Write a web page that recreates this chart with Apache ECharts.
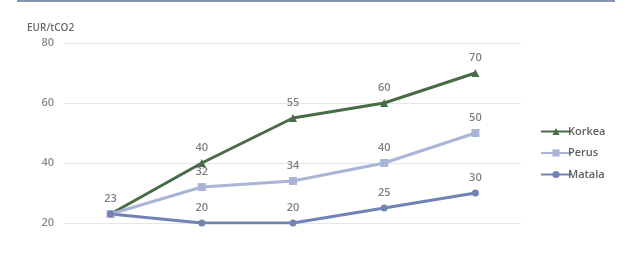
<!DOCTYPE html>
<html><head><meta charset="utf-8">
<script src="https://cdn.jsdelivr.net/npm/echarts@6/dist/echarts.min.js"></script>
<style>html,body{margin:0;padding:0;background:#fff;}#c{width:641px;height:272px;position:relative;}
#topline{position:absolute;left:17px;top:0;width:598px;height:2px;background:#8794b2;}</style>
</head><body><div id="c"></div><div id="topline"></div>
<script>
var categories = ['2020', '2025', '2030', '2035', '2040'];
var korkea = [23, 40, 55, 60, 70];
var perus = [23, 32, 34, 40, 50];
var matala = [23, 20, 20, 25, 30];
var yTicks = [20, 40, 60, 80];
var unitLabel = 'EUR/tCO2';

var chart = echarts.init(document.getElementById('c'), null, {renderer: 'canvas'});
var font = 'Open Sans';
function ser(name, data, color, symbol, size) {
  return {
    name: name, type: 'line', data: data, symbol: symbol, symbolSize: size,
    itemStyle: {color: color}, lineStyle: {color: color, width: 3},
    label: {show: true, position: 'top', distance: 6, color: '#7f7f7f', fontSize: 11, fontWeight: 600, fontFamily: font},
    animation: false
  };
}
var s1 = ser('Korkea', korkea, '#4a6b47', 'triangle', 8);
var s2 = ser('Perus', perus, '#a8b5d5', 'rect', 8);
var s3 = ser('Matala', matala, '#7283b3', 'circle', 7);
s1.label.formatter = function(p){ return p.dataIndex === 0 ? '' : p.value; };
s2.label.formatter = function(p){ return p.dataIndex === 0 ? '' : p.value; };
chart.setOption({
  animation: false,
  title: {text: unitLabel, left: 22, top: 18, textStyle: {fontSize: 10, fontWeight: 600, color: '#6a6a6a', fontFamily: font}},
  grid: {left: 65, right: 120, top: 43, bottom: 49},
  legend: {
    orient: 'vertical', left: 535, top: 121, itemGap: 10.5, itemWidth: 30, itemHeight: 9,
    textStyle: {fontSize: 11, fontWeight: 600, color: '#5f5f5f', fontFamily: font, padding: [0,0,0,-8]},
    data: ['Korkea', 'Perus', 'Matala']
  },
  xAxis: {
    type: 'category', data: categories, boundaryGap: true,
    axisLine: {show: false}, axisTick: {show: false}, axisLabel: {show: false}
  },
  yAxis: {
    type: 'value', min: yTicks[0], max: yTicks[yTicks.length-1], interval: 20,
    axisLine: {show: false}, axisTick: {show: false},
    axisLabel: {color: '#8a8a8a', fontSize: 11, fontWeight: 600, fontFamily: font, margin: 11},
    splitLine: {lineStyle: {color: '#e6e6e6', width: 1}}
  },
  series: [s1, s2, s3]
});
</script></body></html>
